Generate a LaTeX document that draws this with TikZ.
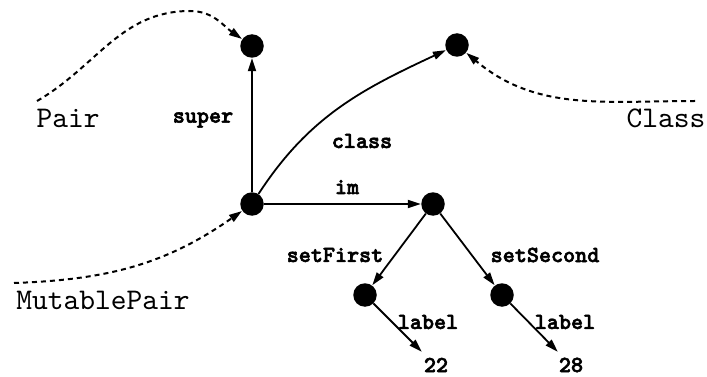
\documentclass[tikz,border=0pt]{standalone}
\usepackage{fontspec}
\usetikzlibrary{arrows.meta}
\newfontfamily\lmboldtt[FakeBold=2.5]{lmmonolt10-bold.otf}
\newfontfamily\lmtt{lmmono10-regular.otf}
\tikzset{
  dot/.style={circle, fill=black, inner sep=0pt, minimum size=23.5pt},
  lbl/.style={inner sep=0pt, font=\fontsize{23}{23}\selectfont\lmboldtt},
  big/.style={inner sep=0pt, font=\fontsize{30}{30}\selectfont\lmtt},
  edge/.style={-{Triangle[length=13pt,width=8pt]}, line width=1.8pt, shorten >=0.3pt},
  dsh/.style={edge, dash pattern=on 5pt off 4pt, line width=2pt}
}
\begin{document}
\begin{tikzpicture}[x=1pt,y=1pt]
\useasboundingbox (0,0) rectangle (707,-377);
% dots
\node[dot] (S) at (252,-46) {};
\node[dot] (C) at (457,-45) {};
\node[dot] (M) at (252,-204) {};
\node[dot] (I) at (433,-204) {};
\node[dot] (F) at (365,-295) {};
\node[dot] (G) at (502,-295) {};
% texts
\node[big] (pair) at (68,-118) {Pair};
\node[big] (class) at (666,-118) {Class};
\node[big] (mp) at (103,-300) {MutablePair};
\node[lbl] (lsuper) at (203,-120) {super};
\node[lbl] (lclass) at (362,-141) {class};
\node[lbl] (lim) at (347,-187) {im};
\node[lbl] (lsf) at (335,-255) {setFirst};
\node[lbl] (lss) at (545,-255) {setSecond};
\node[lbl] (ll1) at (428,-322) {label};
\node[lbl] (ll2) at (565,-322) {label};
\node[lbl] (n22) at (436,-365) {22};
\node[lbl] (n28) at (571,-365) {28};
% free ends
\coordinate (pstart) at (37,-101);
\coordinate (peak) at (190,-11);
\coordinate (cstart) at (695,-101);
\coordinate (mstart) at (14,-283);
\coordinate (e22) at (422,-352);
\coordinate (e28) at (558,-352);
% edges
\draw[edge] (M) -- (S);
\draw[edge] (M) to[out=57,in=205] (C);
\draw[edge] (M) -- (I);
\draw[edge] (I) -- (F);
\draw[edge] (I) -- (G);
\draw[edge] (F) -- (e22);
\draw[edge] (G) -- (e28);
% dashed
\draw[dsh] (pstart) to[out=30,in=180] (peak) to[out=0,in=145] (S);
\draw[dsh] (cstart) to[out=180,in=-40] (C);
\draw[dsh] (mstart) to[out=2,in=215] (M);
\end{tikzpicture}
\end{document}
